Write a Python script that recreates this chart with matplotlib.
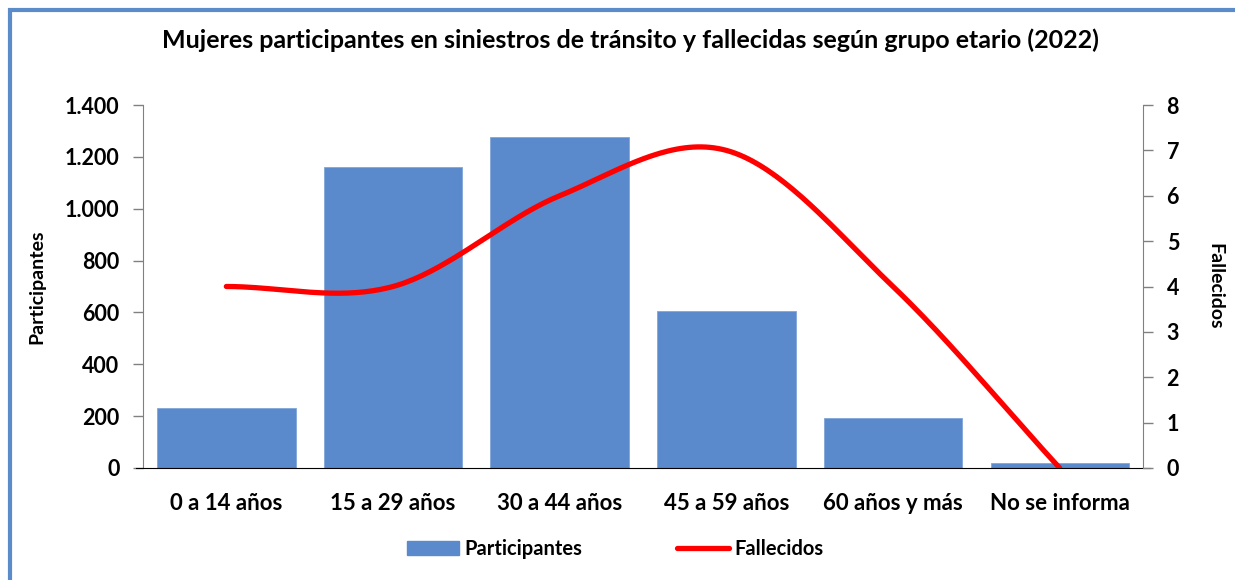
import numpy as np
import matplotlib
matplotlib.use("Agg")
import matplotlib.pyplot as plt
from matplotlib.patches import Rectangle
from matplotlib.lines import Line2D
from matplotlib.ticker import FuncFormatter

categories = ["0 a 14 años", "15 a 29 años", "30 a 44 años", "45 a 59 años", "60 años y más", "No se informa"]
participantes = [232, 1160, 1275, 605, 192, 20]
fallecidos = [4, 4, 6, 7, 4, 0]

plt.rcParams['font.family'] = ['Lato', 'DejaVu Sans']
plt.rcParams['font.weight'] = 'bold'

W, H = 1235, 580
fig = plt.figure(figsize=(W/100, H/100), dpi=100)

# outer border
fig.patches.append(Rectangle((10/W, -0.1), 1.2, 1 - 10/H + 0.1, transform=fig.transFigure,
                             fill=False, edgecolor='#5B8BC9', linewidth=3, clip_on=False))

x0, x1 = 143, 1143
y0, y1 = 105, 468
ax = fig.add_axes([x0/W, 1 - y1/H, (x1-x0)/W, (y1-y0)/H])
ax2 = ax.twinx()

x = np.arange(len(categories))
ax.bar(x, participantes, width=0.83, color='#5A8ACB', edgecolor='#7FA6D8', linewidth=0.6, zorder=2)
ax.set_xlim(-0.5, len(categories) - 0.5)
ax.set_ylim(0, 1400)
ax.set_yticks(np.arange(0, 1401, 200))
ax.yaxis.set_major_formatter(FuncFormatter(lambda v, p: f"{int(v):,}".replace(",", ".")))
ax.set_xticks(x)
ax.set_xticklabels(categories, fontsize=16, fontweight='bold')

# Catmull-Rom smoothing of the line (display like Excel smoothed line)
def catmull(xs, ys, n=40):
    xs = np.asarray(xs, float); ys = np.asarray(ys, float)
    px = np.concatenate([[2*xs[0]-xs[1]], xs, [2*xs[-1]-xs[-2]]])
    py = np.concatenate([[2*ys[0]-ys[1]], ys, [2*ys[-1]-ys[-2]]])
    ox, oy = [], []
    for i in range(1, len(px) - 2):
        t = np.linspace(0, 1, n, endpoint=(i == len(px) - 3))
        for arr, out in ((px, ox), (py, oy)):
            p0, p1, p2, p3 = arr[i-1], arr[i], arr[i+1], arr[i+2]
            out.extend(0.5*((2*p1) + (-p0+p2)*t + (2*p0-5*p1+4*p2-p3)*t**2 + (-p0+3*p1-3*p2+p3)*t**3))
    return np.array(ox), np.array(oy)

sx, sy = catmull(x, fallecidos)
ax2.plot(sx, sy, color='#FF0000', linewidth=3.8, solid_capstyle='round', zorder=3)
ax2.set_ylim(0, 8)
ax2.set_yticks(np.arange(0, 9, 1))

for a in (ax, ax2):
    a.spines['top'].set_visible(False)
    a.tick_params(axis='y', labelsize=15.5, width=1, length=7, color='#808080', pad=10)
    for lbl in a.get_yticklabels():
        lbl.set_fontweight('bold')
ax.spines['right'].set_visible(False)
ax2.spines['left'].set_visible(False)
ax.spines['left'].set_color('#808080')
ax2.spines['right'].set_color('#808080')
ax2.spines['bottom'].set_visible(False)
ax.spines['bottom'].set_color('#000000')
ax.tick_params(axis='x', length=0, pad=18)
ax.spines['bottom'].set_bounds(-0.54, 5.54)

ax.set_ylabel("Participantes", fontsize=14, fontweight='bold', labelpad=14)
ax2.set_ylabel("Fallecidos", fontsize=14, fontweight='bold', rotation=270, labelpad=32)

fig.text(630/W, 1 - 40/H, "Mujeres participantes en siniestros de tránsito y fallecidas según grupo etario (2022)",
         ha='center', va='center', fontsize=18, fontweight='bold')

handles = [Rectangle((0, 0), 1, 1, color='#5A8ACB'),
           Line2D([], [], color='#FF0000', linewidth=3.8, solid_capstyle='round')]
fig.legend(handles, ["Participantes", "Fallecidos"], loc='center', bbox_to_anchor=(615/W, 1 - 549/H),
           ncol=2, frameon=False, handlelength=2.6, handletextpad=0.25, columnspacing=4.7,
           prop={'weight': 'bold', 'size': 14.5})

fig.savefig("out.png", dpi=100, facecolor='white')
